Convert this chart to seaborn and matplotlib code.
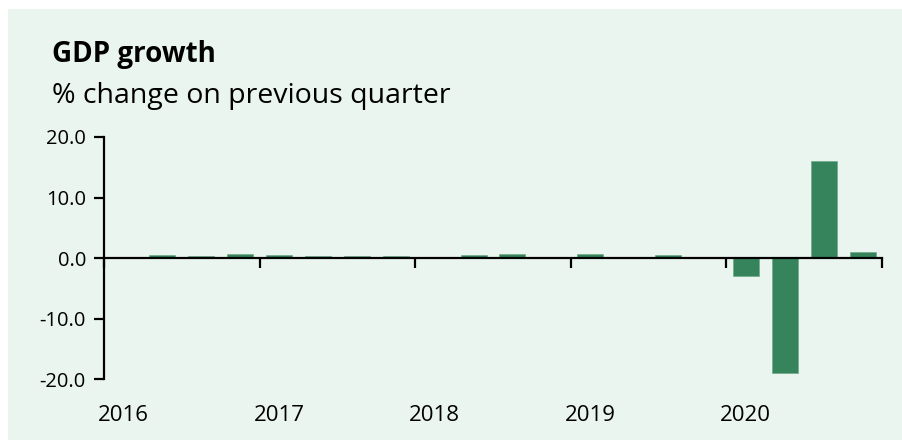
import numpy as np
import pandas as pd
import matplotlib.pyplot as plt
import matplotlib.patches as mpatches
from matplotlib.ticker import FormatStrFormatter
import seaborn as sns

# quarterly GDP growth, % change on previous quarter
quarters = [f"{y} Q{q}" for y in range(2016, 2021) for q in range(1, 5)]
growth = [0.1, 0.5, 0.3, 0.7, 0.5, 0.3, 0.4, 0.4,
          0.1, 0.5, 0.7, 0.0, 0.7, 0.0, 0.5, 0.0,
          -2.9, -19.0, 16.1, 1.0]
year_labels = ["2016", "2017", "2018", "2019", "2020"]
y_ticks = [-20, -10, 0, 10, 20]

bg = "#EBF5EF"
bar_color = "#36845C"

sns.set_style("ticks")
plt.rcParams['font.family'] = ['Open Sans', 'DejaVu Sans']
plt.rcParams['axes.unicode_minus'] = False
plt.rcParams['text.color'] = 'black'
plt.rcParams['xtick.color'] = 'black'
plt.rcParams['ytick.color'] = 'black'

df = pd.DataFrame({"quarter": quarters, "growth": growth})

fig = plt.figure(figsize=(9.02, 4.4), dpi=100)
fig.patch.set_facecolor("white")
fig.patches.append(mpatches.Rectangle((8 / 902, 0), 1, 431 / 440, transform=fig.transFigure,
                                      facecolor=bg, edgecolor="none", zorder=-10))

ax = fig.add_axes([104 / 902, 1 - 379 / 440, 778 / 902, 242 / 440])
ax.set_facecolor("none")

sns.barplot(data=df, x="quarter", y="growth", order=quarters, color=bar_color,
            width=0.67, saturation=1, edgecolor="#6fa988", linewidth=0.5, ax=ax)

ax.set_xlim(-0.5, len(quarters) - 0.5)
ax.set_ylim(-20, 20)
ax.set_yticks(y_ticks)
ax.yaxis.set_major_formatter(FormatStrFormatter('%.1f'))
ax.tick_params(axis='y', length=7, width=1.6, labelsize=14.5, colors='black', pad=6)

# x axis line sits on zero, ticks mark the year boundaries
ax.spines['bottom'].set_position(('data', 0))
for side in ['bottom', 'left']:
    ax.spines[side].set_linewidth(1.6)
    ax.spines[side].set_color('black')
ax.spines['right'].set_visible(False)
ax.spines['top'].set_visible(False)
ax.set_xticks(np.arange(-0.5, len(quarters), 4))
ax.set_xticklabels([])
ax.tick_params(axis='x', length=7, width=1.6, direction='out', colors='black')

for i, lab in enumerate(year_labels):
    ax.text(i * 4, -0.15, lab, transform=ax.get_xaxis_transform(),
            ha='center', va='center', fontsize=16, color='black')

ax.set_xlabel("")
ax.set_ylabel("")

fig.text(52 / 902, 1 - 62 / 440, "GDP growth", fontsize=20, fontweight='bold',
         va='baseline', color='black')
fig.text(52 / 902, 1 - 103 / 440, "% change on previous quarter", fontsize=20.5,
         va='baseline', color='black')

fig.savefig("out.png", dpi=100, facecolor=fig.get_facecolor())
